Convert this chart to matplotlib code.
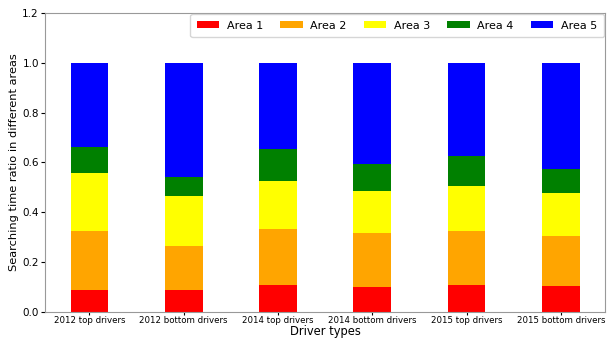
import numpy as np
import matplotlib
matplotlib.use('Agg')
import matplotlib.pyplot as plt

# driver groups and per-area searching time ratios
groups = ['2012 top drivers', '2012 bottom drivers', '2014 top drivers',
          '2014 bottom drivers', '2015 top drivers', '2015 bottom drivers']
area1 = [0.087, 0.087, 0.108, 0.099, 0.108, 0.105]
area2 = [0.239, 0.179, 0.226, 0.217, 0.218, 0.199]
area3 = [0.232, 0.201, 0.192, 0.170, 0.181, 0.174]
area4 = [0.102, 0.075, 0.128, 0.109, 0.119, 0.096]
area5 = [0.340, 0.458, 0.346, 0.405, 0.374, 0.426]

labels = ['Area 1', 'Area 2', 'Area 3', 'Area 4', 'Area 5']
colors = ['red', 'orange', 'yellow', 'green', 'blue']

fig = plt.figure(figsize=(6.1, 3.38), dpi=100)
ax = fig.add_axes([0.074, 0.077, 0.918, 0.885])

x = np.arange(len(groups))
bottom = np.zeros(len(groups))
for vals, lab, col in zip([area1, area2, area3, area4, area5], labels, colors):
    ax.bar(x, vals, 0.4, bottom=bottom, color=col, label=lab)
    bottom += np.array(vals)

ax.set_ylim(0, 1.2)
ax.set_xticks(x)
ax.set_xticklabels(groups, fontsize=6.2)
ax.tick_params(axis='x', length=2, pad=1)
ax.tick_params(axis='y', labelsize=7.5, length=3, pad=1.5)
ax.set_xlabel('Driver types', fontsize=8.3)
ax.set_ylabel('Searching time ratio in different areas', fontsize=8.2)
ax.xaxis.set_label_coords(0.5, -0.044)
ax.yaxis.set_label_coords(-0.046, 0.5)
for s in ax.spines.values():
    s.set_color('#999999')

ax.legend(loc='upper right', ncol=5, fontsize=8, handlelength=2.0,
          columnspacing=1.55, handleheight=0.6, handletextpad=0.7,
          borderpad=0.6, borderaxespad=0.1)

plt.savefig('out.png', dpi=100)
